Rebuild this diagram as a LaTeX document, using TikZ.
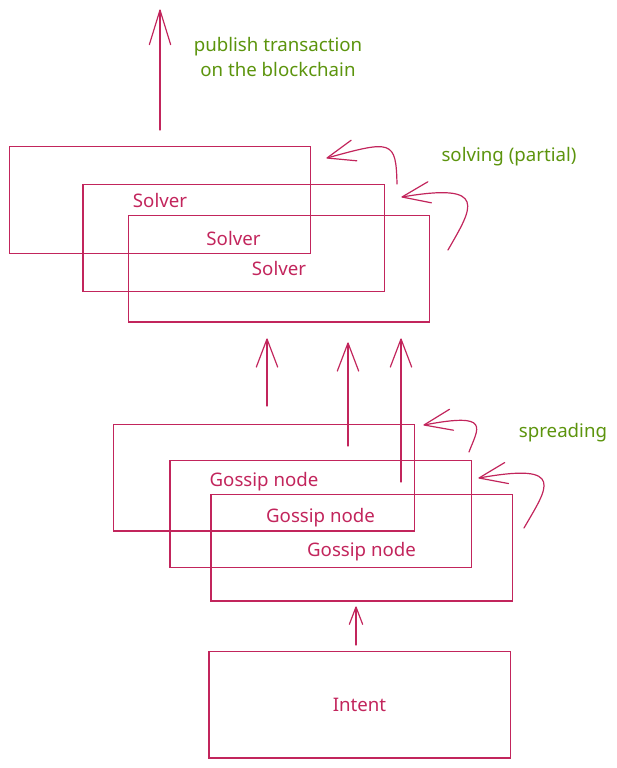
\documentclass[tikz,border=0pt]{standalone}
\usepackage{fontspec}
\setmainfont{Noto Sans}
\usetikzlibrary{arrows.meta}
\definecolor{pk}{HTML}{C2255C}
\definecolor{gr}{HTML}{5C940D}
\pgfdeclarearrow{
  name = OpenVee,
  parameters = {\the\pgfarrowlength,\the\pgfarrowwidth},
  setup code = {
    \pgfarrowssettipend{0pt}
    \pgfarrowssetlineend{-0.5\pgflinewidth}
    \pgfarrowssavethe\pgfarrowlength
    \pgfarrowssavethe\pgfarrowwidth
  },
  drawing code = {
    \pgfsetdash{}{0pt}
    \pgfsetroundjoin
    \pgfsetroundcap
    \pgfpathmoveto{\pgfpoint{-\pgfarrowlength}{0.5\pgfarrowwidth}}
    \pgfpathlineto{\pgfpointorigin}
    \pgfpathlineto{\pgfpoint{-\pgfarrowlength}{-0.5\pgfarrowwidth}}
    \pgfusepathqstroke
  },
  defaults = {length=20pt, width=15pt}
}
\begin{document}
\begin{tikzpicture}[x=0.75pt,y=-0.75pt,
  box/.style={draw=pk, line width=1pt, minimum width=226pt, minimum height=80pt,
    inner sep=0pt, text=pk, font=\fontsize{14}{17}\selectfont},
  lbl/.style={text=gr, font=\fontsize{14}{18.75}\selectfont, align=center, inner sep=0pt},
  arr/.style={draw=pk, line width=0.9pt, line cap=round,
    -{OpenVee[length=21pt,width=16pt]}},
  larr/.style={draw=pk, line width=0.9pt, line cap=round,
    -{OpenVee[length=26pt,width=16pt]}},
  sarr/.style={draw=pk, line width=0.9pt, line cap=round,
    -{OpenVee[length=13pt,width=10pt]}},
]
\useasboundingbox (0,0) rectangle (617,768);

% solver boxes
\node[box] (s1) at (160,200) {Solver};
\node[box] (s2) at (233.5,238) {Solver};
\node[box] (s3) at (279,268.5) {Solver};

% gossip boxes
\node[box] (g1) at (264,477.5) {\raisebox{-3pt}[\height][\depth]{Gossip node}};
\node[box] (g2) at (320.5,514) {\raisebox{-3pt}[\height][\depth]{Gossip node}};
\node[box] (g3) at (361.5,547.5) {\raisebox{-3pt}[\height][\depth]{Gossip node}};

% intent
\node[box] (in) at (359.5,704.5) {Intent};

% labels
\node[lbl] (pub) at (278,57) {publish transaction\\on the blockchain};
\node[lbl] (solv) at (509,157) {solving (partial)};
\node[lbl] (spr) at (563,433) {spreading};

% publish arrow
\coordinate (p0) at (160,130);
\coordinate (p1) at (160,10);
\draw[larr] (p0) -- (p1);

% arrows between layers
\coordinate (a1s) at (267,406); \coordinate (a1t) at (267,339);
\coordinate (a2s) at (348,446); \coordinate (a2t) at (348,343);
\coordinate (a3s) at (401,482); \coordinate (a3t) at (401,339);
\draw[arr] (a1s) -- (a1t);
\draw[arr] (a2s) -- (a2t);
\draw[arr] (a3s) -- (a3t);

% intent arrow
\coordinate (i0) at (356,645);
\coordinate (i1) at (356,607);
\draw[sarr] (i0) -- (i1);

% solving curved arrows
\coordinate (c1s) at (397,184); \coordinate (c1t) at (327,158);
\draw[arr] (c1s) .. controls (396,140) and (392,140) .. (c1t);
\coordinate (c2s) at (448,250); \coordinate (c2t) at (402,197);
\draw[arr] (c2s) .. controls (472,208) and (490,182) .. (c2t);

% spreading curved arrows
\coordinate (d1s) at (469,452); \coordinate (d1t) at (424,425);
\draw[arr] (d1s) .. controls (478,428) and (492,412) .. (d1t);
\coordinate (d2s) at (524,528); \coordinate (d2t) at (479,478);
\draw[arr] (d2s) .. controls (547,488) and (568,462) .. (d2t);
\end{tikzpicture}
\end{document}
